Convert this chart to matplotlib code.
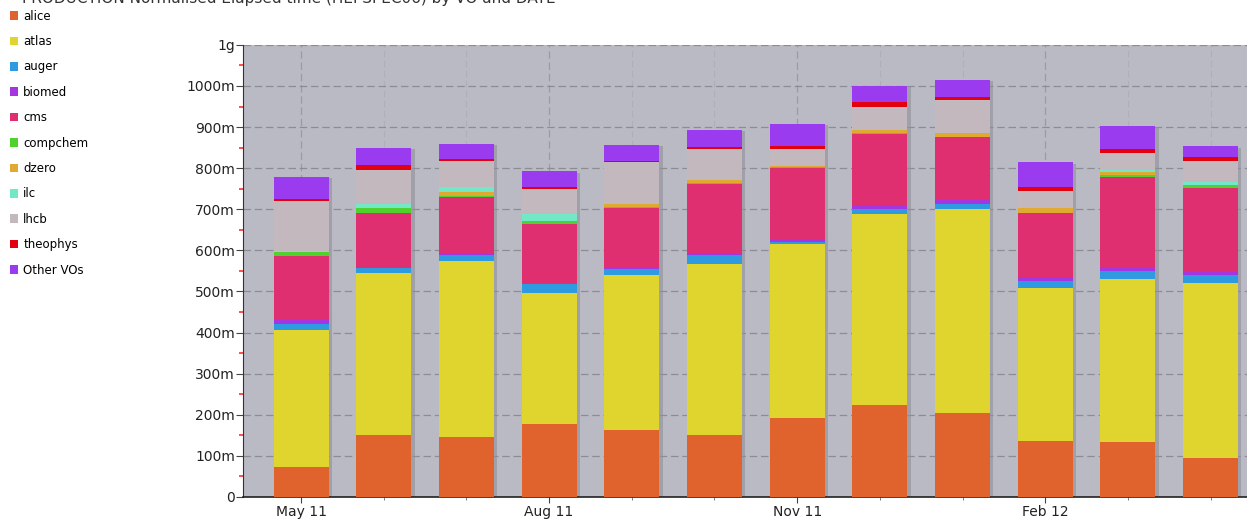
import numpy as np
import matplotlib.pyplot as plt
from matplotlib.patches import Patch

# months shown, May 2011 .. Apr 2012
months = ['May 11', 'Jun 11', 'Jul 11', 'Aug 11', 'Sep 11', 'Oct 11',
          'Nov 11', 'Dec 11', 'Jan 12', 'Feb 12', 'Mar 12', 'Apr 12']
shown_ticks = ['May 11', 'Aug 11', 'Nov 11', 'Feb 12']

# values in "m" units, stacked bottom -> top
alice = [73, 151, 147, 178, 163, 150, 193, 224, 204, 137, 133, 94]
atlas = [334, 393, 427, 319, 378, 416, 422, 464, 496, 372, 398, 427]
auger = [15, 14, 14, 20, 13, 22, 5, 12, 12, 16, 19, 18]
biomed = [11, 2, 2, 2, 4, 2, 7, 8, 11, 11, 8, 8]
cms = [153, 132, 139, 144, 146, 171, 173, 175, 154, 154, 220, 204]
compchem = [10, 10, 3, 8, 2, 4, 2, 2, 0, 0, 5, 7]
dzero = [0, 0, 10, 0, 6, 6, 4, 8, 8, 12, 7, 0]
ilc = [2, 10, 11, 17, 0, 0, 0, 0, 0, 0, 5, 9]
lhcb = [121, 84, 65, 61, 102, 76, 40, 55, 82, 43, 41, 51]
theophys = [7, 11, 4, 5, 4, 4, 8, 12, 7, 9, 10, 8]
other = [53, 42, 37, 38, 38, 42, 53, 41, 41, 60, 57, 27]

series = [
    ('alice', alice, '#e0632e'),
    ('atlas', atlas, '#e0d52e'),
    ('auger', auger, '#2e9be0'),
    ('biomed', biomed, '#a535e0'),
    ('cms', cms, '#e02f70'),
    ('compchem', compchem, '#4fd12e'),
    ('dzero', dzero, '#e0aa30'),
    ('ilc', ilc, '#73e8c6'),
    ('lhcb', lhcb, '#c2b8bd'),
    ('theophys', theophys, '#e3000f'),
    ('Other VOs', other, '#9a3bef'),
]

yticks = list(range(0, 1200, 100))
ylabels = ['0'] + ['%dm' % v for v in yticks[1:-1]] + ['1g']

fig = plt.figure(figsize=(12.47, 5.22), dpi=100)
ax = fig.add_axes([0.195, 0.048, 0.805, 0.866])
ax.set_facecolor('#b9bac3')

x = np.arange(len(months))
w = 0.665
totals = np.sum([s[1] for s in series], axis=0)

# shadow on the right of each bar
ax.bar(x + 0.04, totals - 3, w, bottom=0, color='#8f9098', alpha=0.6, zorder=2)

bottom = np.zeros(len(months))
for name, vals, col in series:
    vals = np.array(vals, dtype=float)
    ax.bar(x, vals, w, bottom=bottom, color=col, zorder=3, linewidth=0)
    bottom += vals

ax.set_xlim(-0.70, 11.44)
ax.set_ylim(0, 1100)
ax.set_yticks(yticks)
ax.set_yticklabels(ylabels, fontsize=10, color='#222222')
ax.set_yticks(np.arange(50, 1100, 100), minor=True)
ax.tick_params(axis='y', which='minor', length=3, color='#ff3030', width=1.2)
ax.tick_params(axis='y', which='major', length=5, color='#444444', pad=1)

tick_pos = [months.index(m) for m in shown_ticks]
ax.set_xticks(tick_pos)
ax.set_xticklabels(shown_ticks, fontsize=10, color='#222222')
ax.set_xticks(x, minor=True)
ax.tick_params(axis='x', which='major', length=4, color='#444444', pad=2)
ax.tick_params(axis='x', which='minor', length=2, color='#666666')

ax.set_axisbelow(True)
ax.yaxis.grid(True, which='major', color='#8c8d94', linestyle=(0, (6, 3)), linewidth=0.9)
ax.xaxis.grid(True, which='major', color='#9a9ba2', linestyle=(0, (6, 3)), linewidth=0.9)
ax.xaxis.grid(True, which='minor', color='#aeafb7', linestyle=(0, (6, 3)), linewidth=0.8)

for side in ['top', 'right']:
    ax.spines[side].set_visible(False)
ax.spines['left'].set_color('#333333')
ax.spines['bottom'].set_color('#222222')
ax.spines['bottom'].set_linewidth(1.2)

handles = [Patch(facecolor=c, edgecolor='none', label=n) for n, v, c in series]
fig.legend(handles=handles, loc='upper left', bbox_to_anchor=(0.002, 0.995),
           frameon=False, fontsize=8.5, handlelength=0.75, handleheight=0.75,
           handletextpad=0.4, labelspacing=1.05, borderaxespad=0.2)

fig.text(0.018, 1.003, 'PRODUCTION Normalised Elapsed time (HEPSPEC06) by VO and DATE',
         fontsize=11, color='#333333', va='center', ha='left')

fig.savefig('out.png', dpi=100)
